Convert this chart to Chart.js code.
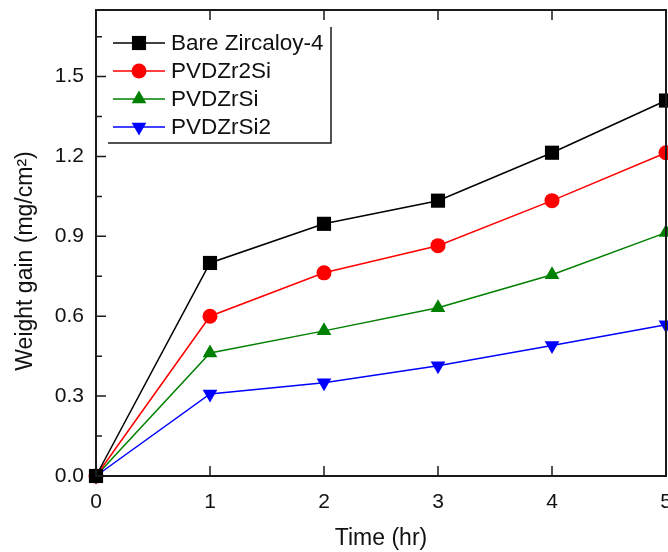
<!DOCTYPE html>
<html>
<head>
<meta charset="utf-8">
<script src="https://cdn.jsdelivr.net/npm/chart.js@4/dist/chart.umd.min.js"></script>
<style>
  html, body { margin: 0; padding: 0; background: #fff; overflow: hidden; }
  #wrap { width: 700px; height: 552px; }
</style>
</head>
<body>
<div id="wrap"><canvas id="grafico" width="700" height="552"></canvas></div>
<script>
const times = [0, 1, 2, 3, 4, 5];
const bareZircaloy = [0, 0.80, 0.947, 1.034, 1.214, 1.41];
const pvdZr2Si = [0, 0.60, 0.763, 0.865, 1.034, 1.214];
const pvdZrSi = [0, 0.462, 0.545, 0.632, 0.756, 0.914];
const pvdZrSi2 = [0, 0.308, 0.35, 0.414, 0.49, 0.568];
const seriesNames = ['Bare Zircaloy-4', 'PVDZr2Si', 'PVDZrSi', 'PVDZrSi2'];
const yTitle = 'Weight gain (mg/cm²)';
const xTitle = 'Time (hr)';

const FONT = '"Liberation Sans", Arial, sans-serif';

function pts(vals) {
    return times.map((t, i) => ({ x: t, y: vals[i] }));
}

function serie(label, vals, color, style, rot, r) {
    return {
        label: label,
        data: pts(vals),
        borderColor: color,
        backgroundColor: color,
        borderWidth: 1.5,
        pointStyle: style,
        rotation: rot,
        pointRadius: r,
        pointBorderWidth: 0,
        tension: 0,
        clip: false
    };
}

// frame, inward ticks, y title and legend box
const framePlugin = {
    id: 'frame',
    afterDatasetsDraw(chart) {
        const ctx = chart.ctx;
        const a = chart.chartArea;
        const xs = chart.scales.x, ys = chart.scales.y;
        ctx.save();
        ctx.strokeStyle = '#1a1a1a';
        ctx.lineWidth = 2;
        ctx.strokeRect(a.left, a.top, a.right - a.left, a.bottom - a.top);
        ctx.lineWidth = 1.5;
        ctx.beginPath();
        for (let v = 1; v <= 5; v++) {
            const px = xs.getPixelForValue(v);
            ctx.moveTo(px, a.bottom); ctx.lineTo(px, a.bottom - 10);
            ctx.moveTo(px, a.top); ctx.lineTo(px, a.top + 10);
        }
        for (let v = 0.15; v < 1.75; v += 0.15) {
            const py = ys.getPixelForValue(v);
            const major = Math.abs(v / 0.3 - Math.round(v / 0.3)) < 0.01;
            ctx.moveTo(a.left, py); ctx.lineTo(a.left + (major ? 10 : 6), py);
        }
        ctx.stroke();

        // y title
        ctx.save();
        ctx.translate(26, 261);
        ctx.rotate(-Math.PI / 2);
        ctx.fillStyle = '#111';
        ctx.font = '23px ' + FONT;
        ctx.textAlign = 'center';
        ctx.textBaseline = 'middle';
        ctx.fillText(yTitle, 0, 0);
        ctx.restore();

        // legend
        const lx = 113, ly0 = 43, dy = 28;
        ctx.lineWidth = 1.5;
        ctx.beginPath();
        ctx.moveTo(108, 143); ctx.lineTo(331, 143); ctx.lineTo(331, 27);
        ctx.stroke();
        chart.data.datasets.forEach((ds, i) => {
            const y = ly0 + i * dy;
            ctx.strokeStyle = ds.borderColor;
            ctx.lineWidth = 1.5;
            ctx.beginPath();
            ctx.moveTo(lx, y); ctx.lineTo(lx + 52, y);
            ctx.stroke();
            ctx.fillStyle = ds.backgroundColor;
            Chart.helpers.drawPoint(ctx, {
                pointStyle: ds.pointStyle, rotation: ds.rotation,
                radius: ds.pointRadius, borderWidth: 0
            }, lx + 26, y);
            ctx.fillStyle = '#111';
            ctx.font = '22.5px ' + FONT;
            ctx.textBaseline = 'middle';
            ctx.fillText(seriesNames[i], 171, y + 1);
        });
        ctx.restore();
    }
};

const ctx = document.getElementById('grafico').getContext('2d');
new Chart(ctx, {
    type: 'line',
    data: {
        datasets: [
            serie(seriesNames[0], bareZircaloy, '#000000', 'rect', 0, 10),
            serie(seriesNames[1], pvdZr2Si, '#ff0000', 'circle', 0, 7.5),
            serie(seriesNames[2], pvdZrSi, '#008000', 'triangle', 0, 8.5),
            serie(seriesNames[3], pvdZrSi2, '#0000ff', 'triangle', 180, 8.5)
        ]
    },
    options: {
        responsive: false,
        animation: false,
        layout: { padding: { left: 0, top: 10, right: 34, bottom: 0 } },
        plugins: { legend: { display: false }, tooltip: { enabled: false } },
        scales: {
            x: {
                type: 'linear',
                min: 0, max: 5,
                grid: { display: false },
                border: { display: false },
                ticks: {
                    stepSize: 1,
                    color: '#111',
                    font: { family: FONT, size: 21 },
                    padding: 6,
                    maxRotation: 0
                },
                title: {
                    display: true,
                    text: xTitle,
                    color: '#111',
                    font: { family: FONT, size: 23 },
                    padding: { top: 2, bottom: 0 }
                },
                afterFit(s) { s.height = 76; s.paddingLeft = 0; s.paddingRight = 0; }
            },
            y: {
                type: 'linear',
                min: 0, max: 1.75,
                grid: { display: false },
                border: { display: false },
                ticks: {
                    stepSize: 0.3,
                    includeBounds: false,
                    color: '#111',
                    font: { family: FONT, size: 21 },
                    padding: 4,
                    callback: v => v.toFixed(1)
                },
                afterFit(s) { s.width = 96; s.paddingTop = 0; s.paddingBottom = 0; }
            }
        }
    },
    plugins: [framePlugin]
});
</script>
</body>
</html>
